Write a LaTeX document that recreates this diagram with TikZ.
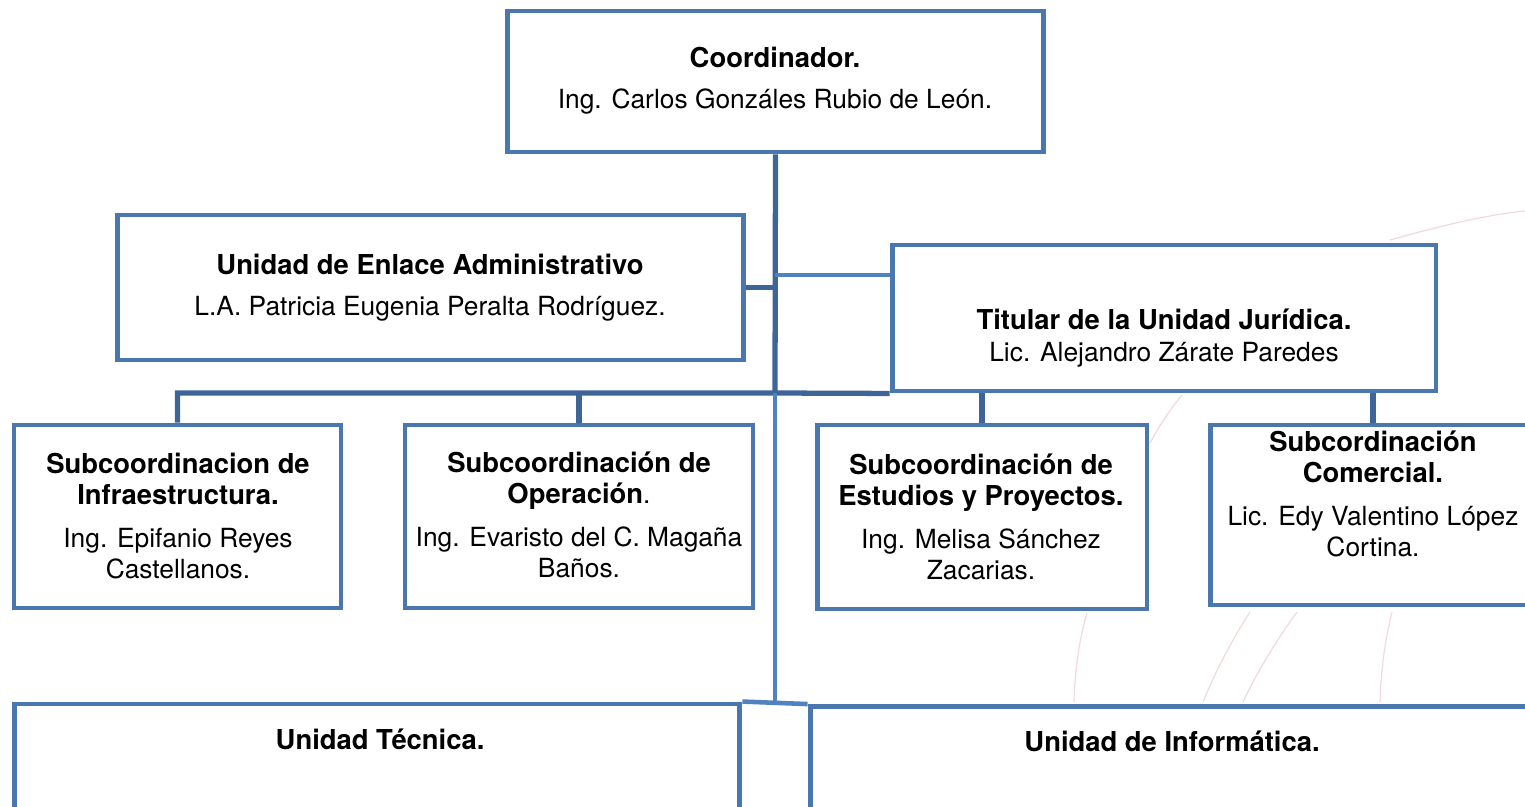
\documentclass[tikz,border=0pt]{standalone}
\usepackage{fontspec}
\setmainfont{TeX Gyre Heros}
\usepackage{xcolor}
\usepackage{tikz}
\usetikzlibrary{calc}

\definecolor{boxblue}{HTML}{4A77AE}
\definecolor{linkdark}{HTML}{3D6598}
\definecolor{linklight}{HTML}{5082BF}
\definecolor{wmpink}{HTML}{F3D9DC}

\newcommand\hd[1]{{\fontsize{15.6}{17.5}\selectfont\bfseries #1}}

\tikzset{
  unitbox/.style={draw=boxblue, line width=2.8pt, fill=white, inner sep=0pt},
  unittext/.style={align=center, inner sep=0pt, font=\fontsize{15}{17.5}\selectfont},
  linkd/.style={draw=linkdark, line width=3pt},
  linkl/.style={draw=linklight, line width=2.6pt},
  wmline/.style={draw=wmpink, line width=0.7pt}
}

\begin{document}
\begin{tikzpicture}[x=0.02cm, y=-0.02cm]
  \useasboundingbox (0,0) rectangle (1525,806);

  % faint watermark arcs behind the chart
  \draw[wmline] (1390,240) .. controls (1440,226) and (1485,215) .. (1525,211);
  \draw[wmline] (1182,395) .. controls (1168,412) and (1158,428) .. (1150,443);
  \draw[wmline] (1087,613) .. controls (1079,640) and (1075,670) .. (1074,702);
  \draw[wmline] (1250,612) .. controls (1232,640) and (1216,670) .. (1203,702);
  \draw[wmline] (1297,612) .. controls (1278,638) and (1258,670) .. (1243,702);
  \draw[wmline] (1392,612) .. controls (1385,640) and (1381,670) .. (1380,702);

  % boxes
  \node[unitbox, minimum width=10.74cm, minimum height=2.82cm] (coord) at (775.5,81.5) {};
  \node[unitbox, minimum width=12.54cm, minimum height=2.9cm] (enlace) at (430.5,287.5) {};
  \node[unitbox, minimum width=10.88cm, minimum height=2.92cm] (juridica) at (1164,318) {};
  \node[unitbox, minimum width=6.54cm, minimum height=3.66cm] (infra) at (177.5,516.5) {};
  \node[unitbox, minimum width=6.96cm, minimum height=3.66cm] (operacion) at (579,516.5) {};
  \node[unitbox, minimum width=6.6cm, minimum height=3.68cm] (estudios) at (982,517) {};
  \node[unitbox, minimum width=6.52cm, minimum height=3.6cm] (comercial) at (1373,515) {};
  \node[unitbox, minimum width=14.52cm, minimum height=2.5cm] (tecnica) at (377,766.5) {};
  \node[unitbox, minimum width=14.48cm, minimum height=2.5cm] (informatica) at (1172,769) {};

  % connectors
  \coordinate (bar) at (775,393);
  \coordinate (jurin) at (juridica.west |- 0,275);
  \coordinate (low) at ($(tecnica.north east)!0.5!(informatica.north west)$);
  \draw[linkd] (coord.south) -- (bar);
  \draw[linkd] (enlace.east) -- (enlace.east -| coord.south);
  \draw[linkl] (jurin) -- (jurin -| low);
  \draw[linkd] (infra.north) |- (bar) -- (juridica.south west);
  \draw[linkd] (operacion.north) -- (operacion.north |- bar);
  \draw[linkd] (estudios.north) -- (estudios.north |- juridica.south);
  \draw[linkd] (comercial.north) -- (comercial.north |- juridica.south);
  \draw[linkl] (bar -| low) -- (low);
  \draw[linkl] (tecnica.north east) -- (informatica.north west);

  % texts
  \node[unittext] (coordtxt) at (775,81) {\hd{Coordinador.}\\[6pt]Ing. Carlos Gonzáles Rubio de León.};
  \node[unittext] (enlacetxt) at (430,288) {\hd{Unidad de Enlace Administrativo}\\[6pt]L.A. Patricia Eugenia Peralta Rodríguez.};
  \node[unittext] (juridicatxt) at (1164,338) {\hd{Titular de la Unidad Jurídica.}\\[1pt]Lic. Alejandro Zárate Paredes};
  \node[unittext] (infratxt) at (178,516) {\hd{Subcoordinacion de}\\\hd{Infraestructura.}\\[7pt]Ing. Epifanio Reyes\\Castellanos.};
  \node[unittext] (operaciontxt) at (579,515) {\hd{Subcoordinación de}\\\hd{Operación}.\\[7pt]Ing. Evaristo del C. Magaña\\Baños.};
  \node[unittext] (estudiostxt) at (981,517) {\hd{Subcoordinación de}\\\hd{Estudios y Proyectos.}\\[7pt]Ing. Melisa Sánchez\\Zacarias.};
  \node[unittext] (comercialtxt) at (1373,494) {\hd{Subcordinación}\\\hd{Comercial.}\\[7pt]Lic. Edy Valentino López\\Cortina.};
  \node[unittext] (tecnicatxt) at (380,739) {\hd{Unidad Técnica.}};
  \node[unittext] (informaticatxt) at (1172,741) {\hd{Unidad de Informática.}};
\end{tikzpicture}
\end{document}
